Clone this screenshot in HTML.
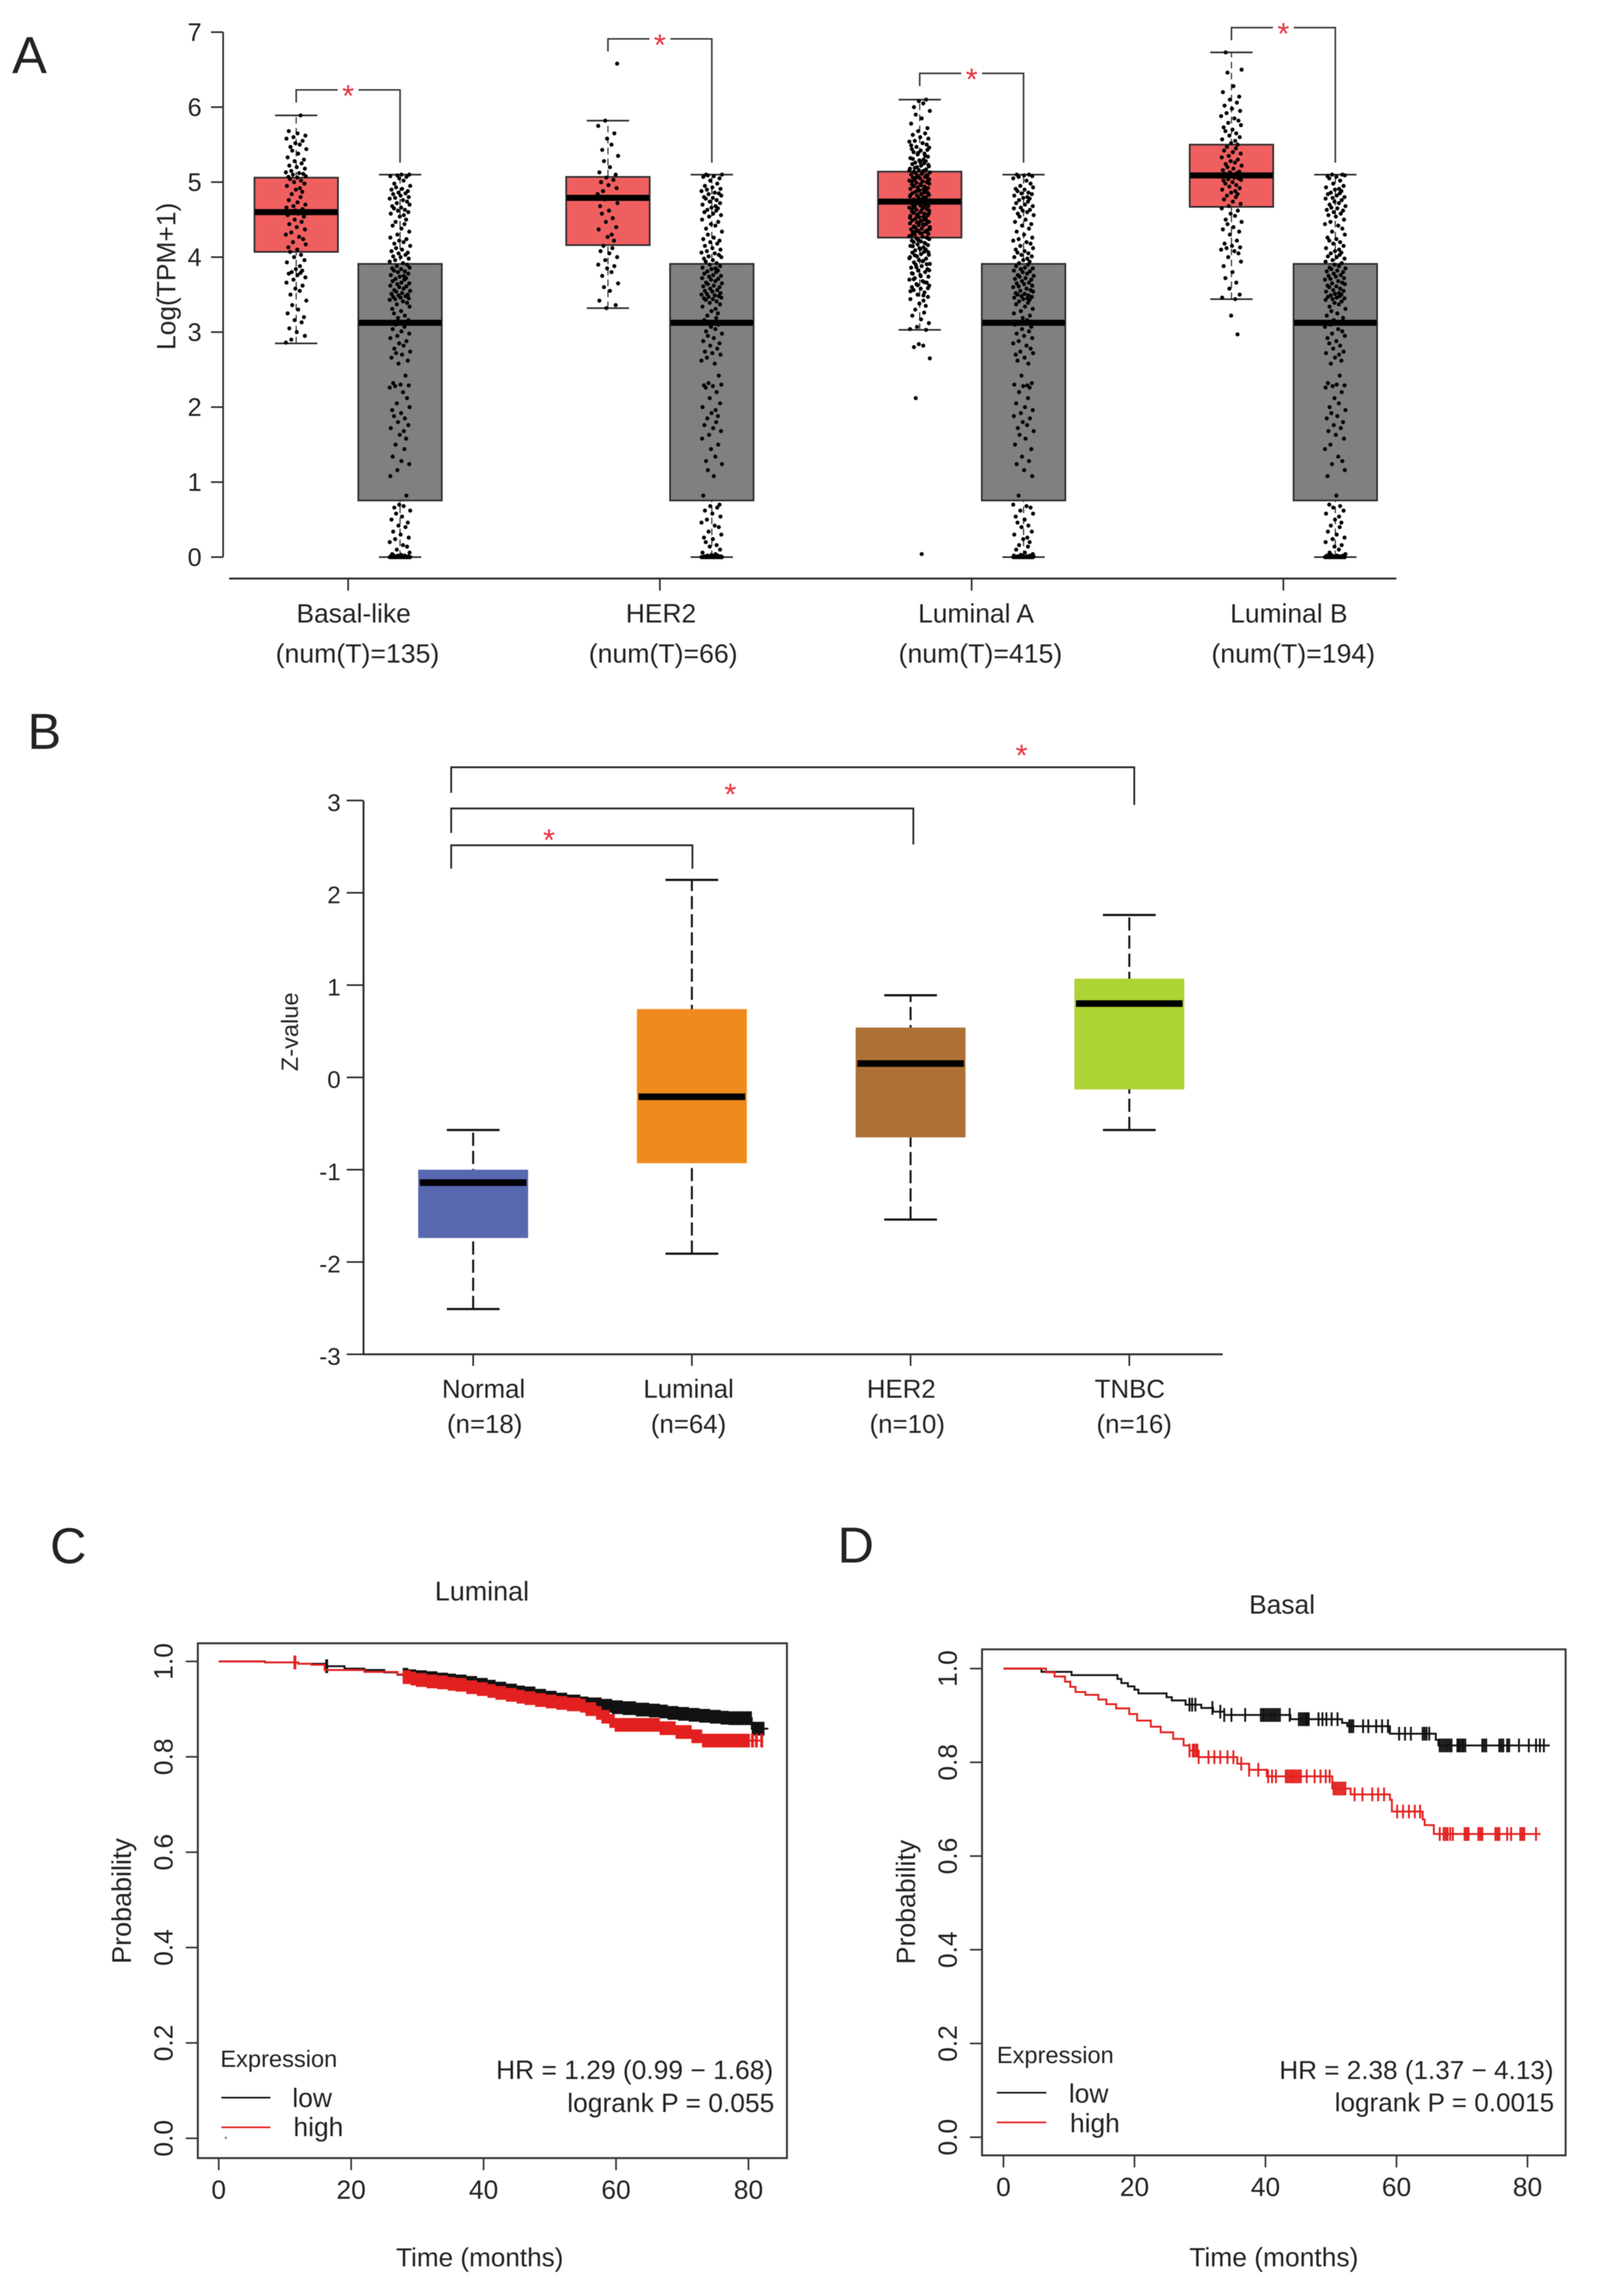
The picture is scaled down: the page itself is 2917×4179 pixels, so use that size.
<!DOCTYPE html>
<html lang="en">
<head>
<meta charset="utf-8">
<title>Expression and survival figure</title>
<style>
html,body{margin:0;padding:0;background:#fff}
svg{display:block;filter:blur(.9px)}
text{font-family:"Liberation Sans",sans-serif;fill:#222}
</style>
</head>
<body>
<svg id="fig" xmlns="http://www.w3.org/2000/svg" width="2917" height="4179" viewBox="0 0 2917 4179">
<rect width="2917" height="4179" fill="#fff"/>

<text x="22" y="133" font-size="95">A</text>
<text x="50" y="1363" font-size="92">B</text>
<text x="91" y="2845" font-size="92">C</text>
<text x="1524" y="2844" font-size="92">D</text>

<g id="panelA">
<text transform="translate(319 503) rotate(-90)" text-anchor="middle" font-size="48">Log(TPM+1)</text>
</g>

<g id="panelB">
<text transform="translate(542 1878) rotate(-90)" text-anchor="middle" font-size="43">Z-value</text>
</g>

<g id="panelC">
<text x="877" y="2913" text-anchor="middle" font-size="49">Luminal</text>
<text transform="translate(238 3460) rotate(-90)" text-anchor="middle" font-size="49">Probability</text>
<text x="873" y="4125" text-anchor="middle" font-size="47.5">Time (months)</text>
<rect x="360" y="2991" width="1072" height="937" fill="none" stroke="#333" stroke-width="3.5"/>
<text x="401" y="3762" font-size="43">Expression</text>
<line x1="403" y1="3818" x2="492" y2="3818" stroke="#111" stroke-width="3"/>
<text x="532" y="3835" font-size="48">low</text>
<line x1="403" y1="3872" x2="492" y2="3872" stroke="#e3201f" stroke-width="3"/>
<text x="534" y="3888" font-size="48">high</text>
<circle cx="411" cy="3891" r="2" fill="#777"/>
<text x="1407" y="3784" text-anchor="end" font-size="48">HR = 1.29 (0.99 − 1.68)</text>
<text x="1409" y="3844" text-anchor="end" font-size="48">logrank P = 0.055</text>
</g>

<g id="panelD">
<text x="2333" y="2937" text-anchor="middle" font-size="48">Basal</text>
<text transform="translate(1665 3462) rotate(-90)" text-anchor="middle" font-size="48.5">Probability</text>
<text x="2318" y="4125" text-anchor="middle" font-size="48">Time (months)</text>
<rect x="1787" y="3002" width="1062" height="921" fill="none" stroke="#333" stroke-width="3.5"/>
<text x="1814" y="3755" font-size="43">Expression</text>
<line x1="1814" y1="3809" x2="1904" y2="3809" stroke="#111" stroke-width="3"/>
<text x="1945" y="3827" font-size="48">low</text>
<line x1="1814" y1="3863" x2="1904" y2="3863" stroke="#e3201f" stroke-width="3"/>
<text x="1947" y="3881" font-size="48">high</text>
<text x="2827" y="3784" text-anchor="end" font-size="47.5">HR = 2.38 (1.37 − 4.13)</text>
<text x="2828" y="3843" text-anchor="end" font-size="47.5">logrank P = 0.0015</text>
</g>
</svg>

<script>
/* ---------- Panel A data ---------- */
const aCategories = ['Basal-like', 'HER2', 'Luminal A', 'Luminal B'];
const aCountLabels = ['(num(T)=135)', '(num(T)=66)', '(num(T)=415)', '(num(T)=194)'];
const aYTicks = [0, 1, 2, 3, 4, 5, 6, 7];
const aTumorQ1 = [4.07, 4.16, 4.26, 4.67];
const aTumorMedian = [4.6, 4.79, 4.74, 5.09];
const aTumorQ3 = [5.06, 5.07, 5.14, 5.5];
const aTumorLow = [2.85, 3.32, 3.03, 3.44];
const aTumorHigh = [5.89, 5.82, 6.1, 6.73];
const aNormalQ1 = [0.755, 0.755, 0.755, 0.755];
const aNormalMedian = [3.125, 3.125, 3.125, 3.125];
const aNormalQ3 = [3.91, 3.91, 3.91, 3.91];
const aNormalLow = [0, 0, 0, 0];
const aNormalHigh = [5.1, 5.1, 5.1, 5.1];
const aBracketTop = [6.23, 6.91, 6.45, 7.06];

const aBasalPoints = [5.89,5.68,5.65,5.62,5.6,5.58,5.55,5.52,5.5,5.47,5.44,5.42,5.38,5.33,5.3,5.28,5.25,5.22,5.2,5.18,5.15,5.13,5.12,5.11,5.1,5.08,5.07,5.06,5.04,5.02,5,4.98,4.95,4.92,4.9,4.87,4.84,4.8,4.76,4.73,4.7,4.68,4.66,4.64,4.62,4.61,4.6,4.6,4.59,4.58,4.56,4.54,4.5,4.47,4.44,4.4,4.37,4.33,4.3,4.27,4.24,4.2,4.17,4.13,4.1,4.07,4.03,4,3.96,3.93,3.88,3.84,3.82,3.8,3.79,3.78,3.76,3.73,3.7,3.66,3.62,3.58,3.55,3.5,3.42,3.36,3.3,3.25,3.2,3.16,3.13,3.05,3,2.95,2.9,2.86];
const aHer2Points = [6.58,5.82,5.75,5.65,5.58,5.5,5.43,5.35,5.28,5.2,5.13,5.1,5.06,5.03,5,4.96,4.92,4.88,4.84,4.8,4.79,4.77,4.72,4.68,4.62,4.58,4.52,4.47,4.4,4.37,4.3,4.27,4.22,4.15,4.12,4.08,4.05,4,3.96,3.9,3.88,3.85,3.8,3.75,3.65,3.6,3.55,3.42,3.36,3.32];
const aLumAPoints = [6.1,6.08,6.05,6,5.95,5.9,5.85,5.78,5.72,5.68,5.65,5.63,5.6,5.58,5.55,5.54,5.52,5.5,5.47,5.46,5.44,5.42,5.4,5.38,5.37,5.34,5.32,5.3,5.29,5.28,5.26,5.25,5.24,5.22,5.21,5.2,5.18,5.17,5.16,5.15,5.14,5.13,5.12,5.11,5.1,5.09,5.08,5.07,5.06,5.05,5.04,5.03,5.02,5.01,5,4.99,4.98,4.97,4.96,4.95,4.94,4.93,4.92,4.91,4.9,4.89,4.88,4.87,4.86,4.85,4.84,4.83,4.82,4.81,4.8,4.79,4.78,4.77,4.76,4.75,4.74,4.74,4.73,4.72,4.71,4.7,4.69,4.68,4.67,4.66,4.65,4.64,4.63,4.62,4.61,4.6,4.59,4.58,4.57,4.56,4.55,4.54,4.53,4.52,4.51,4.5,4.49,4.48,4.47,4.46,4.45,4.44,4.43,4.42,4.41,4.4,4.39,4.38,4.37,4.36,4.35,4.34,4.33,4.32,4.31,4.3,4.28,4.27,4.26,4.25,4.24,4.22,4.21,4.2,4.19,4.17,4.16,4.15,4.13,4.12,4.1,4.09,4.07,4.06,4.04,4.03,4.01,4,3.98,3.96,3.95,3.93,3.91,3.9,3.88,3.86,3.84,3.82,3.8,3.78,3.76,3.74,3.72,3.7,3.68,3.66,3.64,3.62,3.6,3.58,3.56,3.53,3.5,3.47,3.44,3.42,3.38,3.35,3.3,3.26,3.22,3.17,3.12,3.07,3.04,3.03,2.84,2.82,2.8,2.65,2.12,0.04,5.49,5.43,5.39,5.35,5.31,5.27,5.23,5.19,5.155,5.125,5.095,5.065,5.035,5.005,4.975,4.945,4.915,4.885,4.855,4.825,4.795,4.765,4.735,4.705,4.675,4.645,4.615,4.585,4.555,4.525,4.495,4.465,4.435,4.405,4.375,4.345,4.315,4.285,4.255,4.225,4.185,4.145,4.105,4.065,4.025,3.985,3.945,3.905,3.865,3.825,3.785,3.745,3.705,3.665,3.625,3.585,3.545,3.49];
const aLumBPoints = [6.73,6.5,6.46,6.28,6.2,6.14,6.1,6.06,6.02,5.98,5.95,5.92,5.88,5.85,5.82,5.79,5.76,5.73,5.7,5.68,5.65,5.62,5.6,5.57,5.55,5.52,5.5,5.47,5.45,5.42,5.4,5.38,5.35,5.33,5.3,5.28,5.26,5.24,5.22,5.2,5.18,5.16,5.14,5.13,5.12,5.11,5.1,5.09,5.08,5.07,5.06,5.05,5.04,5.03,5.02,5,4.98,4.96,4.94,4.92,4.9,4.88,4.86,4.84,4.82,4.8,4.77,4.74,4.71,4.68,4.65,4.62,4.58,4.55,4.5,4.47,4.44,4.4,4.37,4.34,4.3,4.22,4.18,4.15,4.13,4.12,4.1,4.08,4.05,4,3.94,3.88,3.8,3.72,3.66,3.58,3.5,3.46,3.44,3.22,2.97];
const aNormalPoints = [5.1,5.1,5.09,5.08,5.07,5.05,5.02,4.98,4.95,4.93,4.91,4.9,4.88,4.86,4.85,4.84,4.82,4.8,4.79,4.78,4.76,4.74,4.72,4.7,4.68,4.66,4.65,4.63,4.62,4.6,4.58,4.56,4.54,4.5,4.47,4.44,4.42,4.38,4.34,4.3,4.26,4.24,4.22,4.2,4.18,4.15,4.12,4.1,4.08,4.06,4.05,4.03,4.01,4,3.98,3.96,3.94,3.92,3.9,3.88,3.86,3.85,3.84,3.82,3.81,3.8,3.78,3.76,3.75,3.74,3.72,3.71,3.7,3.68,3.66,3.65,3.64,3.62,3.61,3.6,3.58,3.56,3.55,3.54,3.52,3.51,3.5,3.49,3.48,3.47,3.46,3.45,3.44,3.43,3.41,3.39,3.37,3.34,3.31,3.28,3.25,3.22,3.19,3.16,3.14,3.13,3.12,3.11,3.1,3.07,3.04,3.01,2.98,2.95,2.92,2.88,2.85,2.82,2.78,2.74,2.72,2.7,2.66,2.62,2.58,2.42,2.32,2.3,2.29,2.28,2.26,2.2,2.12,2.05,2,1.96,1.92,1.88,1.85,1.8,1.76,1.72,1.68,1.63,1.58,1.5,1.44,1.34,1.28,1.24,1.16,1.08,0.82,0.7,0.68,0.66,0.62,0.58,0.54,0.5,0.46,0.42,0.4,0.34,0.3,0.26,0.24,0.2,0.16,0.14,0.1,0.06,0.04,0.03,0.02,0.02,0.02,0.01,0.01,0.01,0.01,0,0,0,0,0,0,0,0,0,0,0,0,0,0,0,0,0,0,0,0,0,0,0,0,0,0];
const jitterUnits = [0.42,-0.71,0.13,0.88,-0.26,-0.93,0.61,-0.08,0.34,-0.55,0.97,-0.38,0.19,-0.82,0.74,-0.15,0.52,-0.66,0.05,0.83,-0.47,-0.99,0.28,0.67,-0.31,0.91,-0.75,0.1,-0.58,0.46,-0.2,0.79,-0.89,0.36,-0.03,0.58,-0.43];

/* ---------- Panel B data ---------- */
const bCategories = ['Normal', 'Luminal', 'HER2', 'TNBC'];
const bCountLabels = ['(n=18)', '(n=64)', '(n=10)', '(n=16)'];
const bYTicks = [-3, -2, -1, 0, 1, 2, 3];
const bQ1 = [-1.74, -0.93, -0.65, -0.13];
const bMedian = [-1.14, -0.21, 0.15, 0.8];
const bQ3 = [-1.0, 0.74, 0.54, 1.07];
const bLow = [-2.51, -1.91, -1.54, -0.57];
const bHigh = [-0.57, 2.14, 0.89, 1.76];
const bColors = ['#5868b0', '#f08a1e', '#ae7135', '#add334'];

/* ---------- Survival data ---------- */
const kmXTicks = [0, 20, 40, 60, 80];
const kmYTicks = [0, 0.2, 0.4, 0.6, 0.8, 1];

const cLowTimes = [0,7,12,16,19,22,25,27,28.5,30,31.5,33,34.5,36,37.5,39,40.5,42,43.5,45,46.4,48,49.5,51,52.5,54.6,56,58,59.5,61,63,65,66.5,68,69.5,71,72.5,74.4,76,77,80.5,83];
const cLowSurv = [1,0.998,0.995,0.99,0.985,0.982,0.977,0.972,0.969,0.967,0.965,0.962,0.96,0.958,0.955,0.951,0.947,0.943,0.939,0.935,0.933,0.928,0.924,0.92,0.916,0.912,0.91,0.907,0.904,0.902,0.899,0.897,0.895,0.892,0.89,0.888,0.886,0.884,0.882,0.881,0.859,0.859];
const cHighTimes = [0,7,12,14,16,22,27,28,29,30,31.5,33,34.5,36,37.5,39,40.5,42,43.5,45,46.4,48,49.5,51,52.5,54.6,55.5,57,58,59,60,65,66.5,69,71.5,73,82];
const cHighSurv = [1,0.998,0.995,0.993,0.982,0.978,0.973,0.967,0.964,0.961,0.958,0.956,0.953,0.951,0.946,0.942,0.938,0.934,0.93,0.926,0.923,0.919,0.916,0.913,0.91,0.907,0.9,0.892,0.884,0.875,0.867,0.867,0.86,0.852,0.843,0.834,0.834];
const cLowCensor = [16.3,28,28.4,28.8,29.2,29.6,30,30.4,30.8,31.2,31.6,32,32.4,32.8,33.2,33.6,34,34.4,34.8,35.2,35.6,36,36.4,36.8,37.2,37.6,38,38.4,38.8,39.2,39.6,40,40.4,40.8,41.2,41.6,42,42.4,42.8,43.2,43.6,44,44.4,44.8,45.2,45.6,46,46.4,46.8,47.2,47.6,48,48.4,48.8,49.2,49.6,50,50.4,50.8,51.2,51.6,52,52.4,52.8,53.2,53.6,54,54.4,54.8,55.2,55.6,56,56.4,56.8,57.2,57.6,58,58.4,58.8,59.2,59.6,60,60.4,60.8,61.2,61.6,62,62.4,62.8,63.2,63.6,64,64.4,64.8,65.2,65.6,66,66.4,66.8,67.2,67.6,68,68.4,68.8,69.2,69.6,70,70.4,70.8,71.2,71.6,72,72.4,72.8,73.2,73.6,74,74.4,74.8,75.2,75.6,76,76.4,76.8,77.2,77.6,78,78.4,78.8,79.2,79.6,80,80.3,80.7,81.1,81.5,81.9,82.2];
const cHighCensor = [11.5,28,28.4,28.8,29.2,29.6,30,30.4,30.8,31.2,31.6,32,32.4,32.8,33.2,33.6,34,34.4,34.8,35.2,35.6,36,36.4,36.8,37.2,37.6,38,38.4,38.8,39.2,39.6,40,40.4,40.8,41.2,41.6,42,42.4,42.8,43.2,43.6,44,44.4,44.8,45.2,45.6,46,46.4,46.8,47.2,47.6,48,48.4,48.8,49.2,49.6,50,50.4,50.8,51.2,51.6,52,52.4,52.8,53.2,53.6,54,54.4,54.8,55.2,55.6,56,56.4,56.8,57.2,57.6,58,58.4,58.8,59.2,59.6,60,60.4,60.8,61.2,61.6,62,62.4,62.8,63.2,63.6,64,64.4,64.8,65.2,65.6,66,66.4,66.8,67.2,67.6,68,68.4,68.8,69.2,69.6,70,70.4,70.8,71.2,71.6,72,72.4,72.8,73.2,73.6,74,74.4,74.8,75.2,75.6,76,76.4,76.8,77.2,77.6,78,78.4,78.8,79.2,79.6,80,80.6,81.2,82];

const dLowTimes = [0,5.8,10.4,17.4,18,19,20,20.6,22.4,24.9,25.7,27.8,30.2,32,33.7,36.4,43.8,51.7,52.5,59,66,66.4,83.4];
const dLowSurv = [1,0.993,0.986,0.978,0.969,0.962,0.955,0.947,0.947,0.939,0.932,0.923,0.916,0.908,0.901,0.901,0.892,0.884,0.877,0.861,0.848,0.836,0.836];
const dHighTimes = [0,6.5,7.8,9.4,10.2,11,12.5,14.5,15.7,17.2,19.2,20.4,22.5,24,25.9,27.5,28.4,29.8,35.7,37.5,40.2,42.2,50.2,51,53,59,59.3,64,64.3,65.7,67.2,82];
const dHighSurv = [1,0.992,0.983,0.972,0.961,0.95,0.944,0.934,0.924,0.915,0.903,0.889,0.876,0.864,0.85,0.836,0.825,0.811,0.797,0.784,0.77,0.77,0.744,0.744,0.7315,0.72,0.695,0.678,0.666,0.647,0.647,0.647];
const dLowCensor = [28.4,28.8,29.3,31.9,33.1,33.7,34.8,36.9,39.3,39.6,39.8,40.1,40.4,40.7,41,41.3,41.6,41.9,42.2,43.7,45.1,45.4,45.7,46,46.2,46.4,46.6,48.1,48.7,49.3,50.1,51,52.8,53.1,53.4,54.9,55.7,56.9,57.8,58.7,60.4,61.3,62.2,64,64.3,64.6,65,66.6,66.9,67.2,67.5,67.8,68.1,68.4,69.3,69.5,69.7,70,70.2,70.5,73.1,73.4,73.7,75.7,76,76.3,76.9,77.2,78.7,80.2,81.3,81.9,82.5];
const dHighCensor = [28.4,28.9,29.1,29.4,29.6,29.8,31.3,32.2,33.1,34.2,35.1,36.3,37.5,38.9,40.4,41,41.6,43.1,43.4,43.7,44,44.2,44.5,44.8,45.1,45.4,46.3,47.5,48.4,49.2,49.8,50.4,50.7,51,51.3,51.6,51.9,52.2,53.6,54.8,56.3,57.2,58.1,60.1,61,61.9,62.8,63.6,66.6,67.2,67.5,67.8,68.2,68.6,70.4,70.7,71,72.5,72.8,73.1,75.1,75.4,75.7,76.9,77.5,78.9,79.2,79.5,81.3];

/* ---------- helpers ---------- */
const NS = 'http://www.w3.org/2000/svg';
const INK = '#2a2a2a';
function mk(tag, parent, attrs, content) {
  const e = document.createElementNS(NS, tag);
  for (const k in attrs) e.setAttribute(k, attrs[k]);
  if (content !== undefined) e.textContent = content;
  parent.appendChild(e);
  return e;
}
function stepValue(times, surv, t) {
  let s = surv[0];
  for (let i = 0; i < times.length; i++) { if (times[i] <= t) s = surv[i]; }
  return s;
}
function star(parent, cx, cy) {
  const st = mk('text', parent, {x: cx, y: cy + 29, 'text-anchor': 'middle', 'font-size': 56, style: 'fill:#e6323e'}, '*');
  
  
}

/* ---------- Panel A ---------- */
const gA = document.getElementById('panelA');
const yA = v => 1014 - 136.5 * v;
const groupA = i => 633.5 + 567.3 * i;
const tumorX = i => groupA(i) - 94.5;
const normalX = i => groupA(i) + 94.5;

const aAxisY = mk('line', gA, {x1: 406, x2: 406, y1: yA(7), y2: yA(0), stroke: INK, 'stroke-width': 3});


const aAxisX = mk('line', gA, {x1: 417, x2: 2541, y1: 1053, y2: 1053, stroke: INK, 'stroke-width': 3.5});



aYTicks.forEach(v => {
  const t = mk('line', gA, {x1: 384, x2: 406, y1: yA(v), y2: yA(v), stroke: INK, 'stroke-width': 3});
  
  
  const l = mk('text', gA, {x: 367, y: yA(v) + 16, 'text-anchor': 'end', 'font-size': 46}, String(v));
  
  
});

function drawBoxA(cx, q1, med, q3, lo, hi, fill, pts, shift) {
  const w = mk('line', gA, {x1: cx, x2: cx, y1: yA(lo), y2: yA(hi), stroke: INK, 'stroke-width': 2, 'stroke-dasharray': '12 8'});
  
  
  const c1 = mk('line', gA, {x1: cx - 38.5, x2: cx + 38.5, y1: yA(hi), y2: yA(hi), stroke: INK, 'stroke-width': 3});
  
  
  const c2 = mk('line', gA, {x1: cx - 38.5, x2: cx + 38.5, y1: yA(lo), y2: yA(lo), stroke: INK, 'stroke-width': 3});
  
  
  const b = mk('rect', gA, {x: cx - 76, y: yA(q3), width: 152, height: yA(q1) - yA(q3), fill: fill, stroke: '#2a2a2a', 'stroke-width': 3});
  
  
  const m = mk('line', gA, {x1: cx - 75, x2: cx + 75, y1: yA(med), y2: yA(med), stroke: '#000', 'stroke-width': 11});
  
  
  pts.forEach((v, i) => {
    const j = jitterUnits[(i + shift) % jitterUnits.length];
    const d = mk('circle', gA, {cx: cx + 19 * j, cy: yA(v), r: 3.7, fill: '#000'});
    
    
  });
}
const aStrips = [aBasalPoints, aHer2Points, aLumAPoints, aLumBPoints];
const aLabelOffset = [10, 2, 8, 10];
const aCountOffset = [17, 6, 16, 18];
aCategories.forEach((name, i) => {
  drawBoxA(tumorX(i), aTumorQ1[i], aTumorMedian[i], aTumorQ3[i], aTumorLow[i], aTumorHigh[i], '#f05f60', aStrips[i], i * 3);
  drawBoxA(normalX(i), aNormalQ1[i], aNormalMedian[i], aNormalQ3[i], aNormalLow[i], aNormalHigh[i], '#808080', aNormalPoints, i * 7 + 2);

  const top = yA(aBracketTop[i]);
  const left = tumorX(i), right = normalX(i), mid = groupA(i);
  const br1 = mk('path', gA, {d: `M${left} ${top + 23}V${top}H${mid - 19}`, fill: 'none', stroke: '#333', 'stroke-width': 2.8});
  
  
  const br2 = mk('path', gA, {d: `M${mid + 19} ${top}H${right}V${yA(5.26)}`, fill: 'none', stroke: '#333', 'stroke-width': 2.8});
  
  
  star(gA, mid, top + 1);

  const tk = mk('line', gA, {x1: mid, x2: mid, y1: 1053, y2: 1075, stroke: INK, 'stroke-width': 3});
  
  
  const l1 = mk('text', gA, {x: mid + aLabelOffset[i], y: 1133, 'text-anchor': 'middle', 'font-size': 48}, name);
  
  
  const l2 = mk('text', gA, {x: mid + aCountOffset[i], y: 1206, 'text-anchor': 'middle', 'font-size': 48.5}, aCountLabels[i]);
  
  
});

/* ---------- Panel B ---------- */
const gB = document.getElementById('panelB');
const yB = v => 1961 - 168 * v;
const xB = i => 861 + 398 * i;

const bAxisY = mk('line', gB, {x1: 661.5, x2: 661.5, y1: yB(3), y2: yB(-3), stroke: INK, 'stroke-width': 3.5});


const bAxisX = mk('line', gB, {x1: 660, x2: 2225, y1: yB(-3), y2: yB(-3), stroke: INK, 'stroke-width': 3.5});



bYTicks.forEach(v => {
  const t = mk('line', gB, {x1: 631, x2: 661, y1: yB(v), y2: yB(v), stroke: INK, 'stroke-width': 3});
  
  
  const l = mk('text', gB, {x: 620, y: yB(v) + 19, 'text-anchor': 'end', 'font-size': 44}, String(v));
  
  
});

const bLabelOffset = [19, -6, -17, 1];
const bCountOffset = [21, -6, -6, 9];
bCategories.forEach((name, i) => {
  const cx = xB(i);
  const w = mk('line', gB, {x1: cx, x2: cx, y1: yB(bLow[i]), y2: yB(bHigh[i]), stroke: '#111', 'stroke-width': 3.6, 'stroke-dasharray': '24 9'});
  
  
  const c1 = mk('line', gB, {x1: cx - 48, x2: cx + 48, y1: yB(bHigh[i]), y2: yB(bHigh[i]), stroke: '#111', 'stroke-width': 4});
  
  
  const c2 = mk('line', gB, {x1: cx - 48, x2: cx + 48, y1: yB(bLow[i]), y2: yB(bLow[i]), stroke: '#111', 'stroke-width': 4});
  
  
  const b = mk('rect', gB, {x: cx - 100, y: yB(bQ3[i]), width: 200, height: yB(bQ1[i]) - yB(bQ3[i]), fill: bColors[i]});
  
  
  const m = mk('line', gB, {x1: cx - 97, x2: cx + 97, y1: yB(bMedian[i]), y2: yB(bMedian[i]), stroke: '#000', 'stroke-width': 12});
  
  
  const tk = mk('line', gB, {x1: cx, x2: cx, y1: yB(-3), y2: 2486, stroke: INK, 'stroke-width': 3});
  
  
  const l1 = mk('text', gB, {x: cx + bLabelOffset[i], y: 2544, 'text-anchor': 'middle', 'font-size': 47}, name);
  
  
  const l2 = mk('text', gB, {x: cx + bCountOffset[i], y: 2608, 'text-anchor': 'middle', 'font-size': 47}, bCountLabels[i]);
  
  
});

const brB1 = mk('path', gB, {d: 'M821 1581V1538.5H1260V1581', fill: 'none', stroke: '#222', 'stroke-width': 3.2});


const brB2 = mk('path', gB, {d: 'M821 1516V1471.5H1662V1537', fill: 'none', stroke: '#222', 'stroke-width': 3.2});


const brB3 = mk('path', gB, {d: 'M821 1443V1396.5H2064V1465', fill: 'none', stroke: '#222', 'stroke-width': 3.2});


star(gB, 999, 1519);
star(gB, 1329, 1436);
star(gB, 1859, 1365);

/* ---------- Survival panels ---------- */
function drawKM(g, x, y, cfg) {
  kmXTicks.forEach(v => {
    const t = mk('line', g, {x1: x(v), x2: x(v), y1: cfg.bottom, y2: cfg.bottom + 22, stroke: '#333', 'stroke-width': 3});
    
    
    const l = mk('text', g, {x: x(v), y: cfg.xLabelY, 'text-anchor': 'middle', 'font-size': 48}, String(v));
    
    
  });
  kmYTicks.forEach(v => {
    const t = mk('line', g, {x1: cfg.left - 22, x2: cfg.left, y1: y(v), y2: y(v), stroke: '#333', 'stroke-width': 3});
    
    
    const l = mk('text', g, {transform: `translate(${cfg.yLabelX} ${y(v)}) rotate(-90)`, 'text-anchor': 'middle', 'font-size': 48}, v.toFixed(1));
    
    
  });
  function curve(times, surv, censor, color, sw, tickW) {
    let d = `M${x(times[0])} ${y(surv[0])}`;
    for (let i = 1; i < times.length; i++) {
      d += `H${x(times[i])}V${y(surv[i])}`;
    }
    const p = mk('path', g, {d: d, fill: 'none', stroke: color, 'stroke-width': sw});
    
    
    censor.forEach(t => {
      const cy = y(stepValue(times, surv, t));
      const c = mk('line', g, {x1: x(t), x2: x(t), y1: cy - 12.5, y2: cy + 12.5, stroke: color, 'stroke-width': tickW});
      
      
    });
  }
  curve(cfg.lowT, cfg.lowS, cfg.lowC, '#111', 3.4, cfg.tickW);
  curve(cfg.highT, cfg.highS, cfg.highC, '#e3201f', 3.4, cfg.tickW);
}

const xC = t => 398 + 12.05 * t;
const yC = s => 3892 - 868 * s;
const xD = t => 1826 + 11.92 * t;
const yD = s => 3890 - 853 * s;

drawKM(document.getElementById('panelC'), xC, yC, {
  left: 360, bottom: 3928, xLabelY: 4002, yLabelX: 314, tickW: 5.2,
  lowT: cLowTimes, lowS: cLowSurv, lowC: cLowCensor,
  highT: cHighTimes, highS: cHighSurv, highC: cHighCensor
});
drawKM(document.getElementById('panelD'), xD, yD, {
  left: 1787, bottom: 3923, xLabelY: 3997, yLabelX: 1741, tickW: 3.4,
  lowT: dLowTimes, lowS: dLowSurv, lowC: dLowCensor,
  highT: dHighTimes, highS: dHighSurv, highC: dHighCensor
});
</script>
</body>
</html>
